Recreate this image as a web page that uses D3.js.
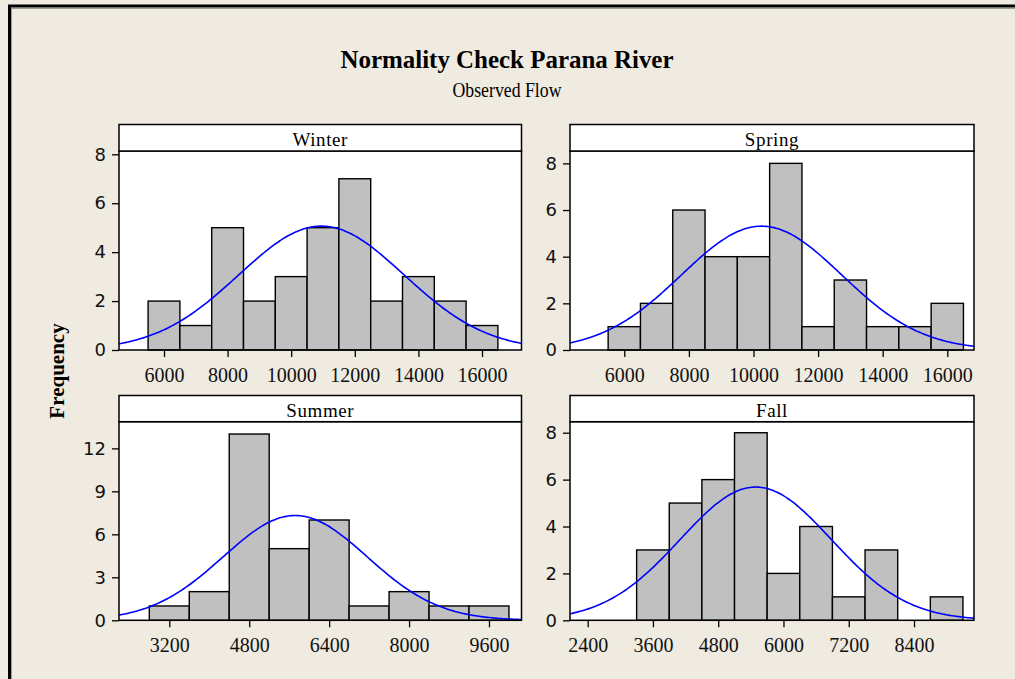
<!DOCTYPE html>
<html>
<head>
<meta charset="utf-8">
<script src="https://cdn.jsdelivr.net/npm/d3@7"></script>
<style>
  html, body { margin: 0; padding: 0; background: #EFEBE1; }
  svg { display: block; }
</style>
</head>
<body>
<svg id="chart" width="1015" height="679"></svg>
<script>
// Seasonal histograms of observed flow with fitted normal curves
const seasons = ["Winter", "Spring", "Summer", "Fall"];

// Bin counts per season
const winterCounts = [2, 1, 5, 2, 3, 5, 7, 2, 3, 2, 1];
const springCounts = [1, 2, 6, 4, 4, 8, 1, 3, 1, 1, 2];
const summerCounts = [1, 2, 13, 5, 7, 1, 2, 1, 1];
const fallCounts   = [3, 5, 6, 8, 2, 4, 1, 3, 0, 1];

// First bin edge and bin width per season
const binStarts = [5500, 5500, 2800, 3300];
const binWidths = [1000, 1000, 800, 600];

// Fitted normal parameters (mean, standard deviation)
const fitMeans = [10950, 10250, 5720, 5490];
const fitSDs   = [2600, 2480, 1440, 1390];

// Axis ranges and ticks
const xDomains = [[4585, 17242], [4319, 16827], [2193, 10251], [2075, 9503]];
const yMaxes   = [8.135, 8.53, 13.86, 8.47];
const xTicks = [
  [6000, 8000, 10000, 12000, 14000, 16000],
  [6000, 8000, 10000, 12000, 14000, 16000],
  [3200, 4800, 6400, 8000, 9600],
  [2400, 3600, 4800, 6000, 7200, 8400]
];
const yTicks = [
  [0, 2, 4, 6, 8],
  [0, 2, 4, 6, 8],
  [0, 3, 6, 9, 12],
  [0, 2, 4, 6, 8]
];

const countsBySeason = [winterCounts, springCounts, summerCounts, fallCounts];

const serif = "Liberation Serif, Times New Roman, serif";
const sans = "DejaVu Sans, Verdana, sans-serif";

const svg = d3.select("#chart");

// Outer frame
svg.append("rect").attr("x", 9.5).attr("y", 6).attr("width", 1030).attr("height", 700)
  .attr("fill", "#EFEBE1").attr("stroke", "#000").attr("stroke-width", 3);
svg.append("rect").attr("x", 11.5).attr("y", 8.5).attr("width", 1030).attr("height", 700)
  .attr("fill", "none").attr("stroke", "#9a9a96").attr("stroke-width", 1);

// Titles
svg.append("text").attr("x", 507).attr("y", 68).attr("text-anchor", "middle")
  .attr("font-family", serif).attr("font-weight", "bold").attr("font-size", 26)
  .attr("textLength", 333).attr("lengthAdjust", "spacingAndGlyphs")
  .text("Normality Check Parana River");
svg.append("text").attr("x", 507).attr("y", 97).attr("text-anchor", "middle")
  .attr("font-family", serif).attr("font-size", 20)
  .attr("textLength", 109).attr("lengthAdjust", "spacingAndGlyphs")
  .text("Observed Flow");

// Shared y-axis title
svg.append("text")
  .attr("transform", "translate(64,371) rotate(-90)")
  .attr("text-anchor", "middle")
  .attr("font-family", serif).attr("font-weight", "bold").attr("font-size", 21)
  .text("Frequency");

// Panel layout
const colLeft = [119, 570];
const colWidth = [402.5, 404];
const headerTop = [124.5, 395.5];
const plotTop = [151, 421.7];
const plotBottom = [350, 620.3];

seasons.forEach((name, i) => {
  const col = i % 2, row = Math.floor(i / 2);
  const left = colLeft[col], w = colWidth[col];
  const top = plotTop[row], h = plotBottom[row] - plotTop[row];
  const counts = countsBySeason[i];

  const x = d3.scaleLinear().domain(xDomains[i]).range([0, w]);
  const y = d3.scaleLinear().domain([0, yMaxes[i]]).range([h, 0]);

  const g = svg.append("g").attr("transform", `translate(${left},${top})`);

  // Header strip
  svg.append("rect").attr("x", left).attr("y", headerTop[row])
    .attr("width", w).attr("height", top - headerTop[row])
    .attr("fill", "#fff").attr("stroke", "#000").attr("stroke-width", 1.5);
  svg.append("text").attr("x", left + w / 2).attr("y", top - 5)
    .attr("text-anchor", "middle")
    .attr("font-family", serif).attr("font-size", 19).attr("letter-spacing", 0.6)
    .text(name);

  // Plot area
  g.append("rect").attr("width", w).attr("height", h).attr("fill", "#fff");

  const clipId = "clip" + i;
  g.append("clipPath").attr("id", clipId)
    .append("rect").attr("width", w).attr("height", h);

  // Bars
  const bins = counts.map((c, k) => ({
    x0: binStarts[i] + k * binWidths[i],
    x1: binStarts[i] + (k + 1) * binWidths[i],
    count: c
  }));
  g.selectAll("rect.bar").data(bins).enter().append("rect")
    .attr("class", "bar")
    .attr("x", d => x(d.x0))
    .attr("y", d => y(d.count))
    .attr("width", d => x(d.x1) - x(d.x0))
    .attr("height", d => y(0) - y(d.count))
    .attr("fill", "#C0C0C0").attr("stroke", "#000").attr("stroke-width", 1.4);

  // Fitted normal curve scaled to counts
  const n = d3.sum(counts);
  const mu = fitMeans[i], sd = fitSDs[i], bw = binWidths[i];
  const pts = d3.range(0, 201).map(k => {
    const v = xDomains[i][0] + (xDomains[i][1] - xDomains[i][0]) * k / 200;
    const dens = n * bw / (sd * Math.sqrt(2 * Math.PI)) * Math.exp(-0.5 * ((v - mu) / sd) ** 2);
    return [v, dens];
  });
  g.append("path").datum(pts)
    .attr("clip-path", `url(#${clipId})`)
    .attr("fill", "none").attr("stroke", "#0000FF").attr("stroke-width", 1.6)
    .attr("d", d3.line().x(d => x(d[0])).y(d => y(d[1])).curve(d3.curveMonotoneX));

  // Plot border
  g.append("rect").attr("width", w).attr("height", h)
    .attr("fill", "none").attr("stroke", "#000").attr("stroke-width", 1.5);

  // X axis
  const xa = g.append("g").attr("transform", `translate(0,${h})`)
    .call(d3.axisBottom(x).tickValues(xTicks[i]).tickSize(7).tickPadding(11).tickFormat(d3.format("d")));
  xa.select(".domain").remove();
  xa.selectAll("line").attr("stroke", "#000").attr("stroke-width", 1.3);
  xa.selectAll("text").attr("font-family", serif)
    .attr("font-size", 20).attr("fill", "#111");

  // Y axis
  const ya = g.append("g")
    .call(d3.axisLeft(y).tickValues(yTicks[i]).tickSize(7).tickPadding(6).tickFormat(d3.format("d")));
  ya.select(".domain").remove();
  ya.selectAll("line").attr("stroke", "#000").attr("stroke-width", 1.3);
  ya.selectAll("text").attr("font-family", sans)
    .attr("font-size", 18).attr("fill", "#111");
});
</script>
</body>
</html>
